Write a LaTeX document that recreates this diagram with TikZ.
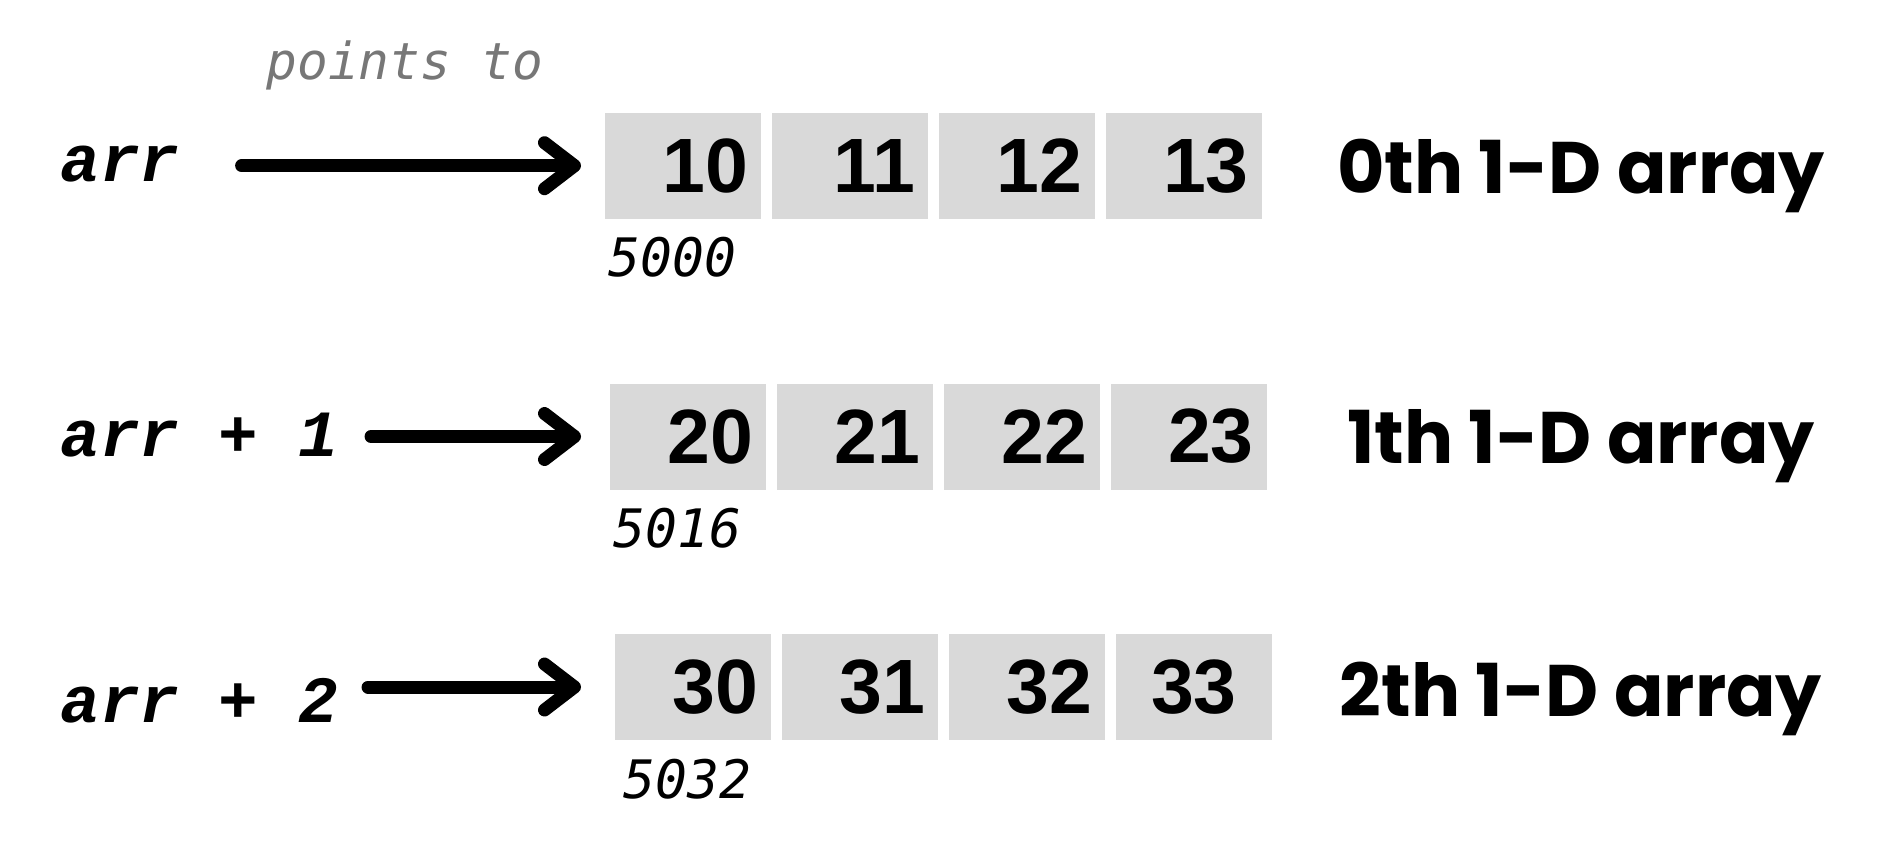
\documentclass[tikz,border=0pt]{standalone}
\usepackage{fontspec}
\usepackage{tikz}
\usetikzlibrary{positioning, arrows.meta}

\newfontfamily\cellfont{Liberation Sans}
\newfontfamily\tagfont{Poppins}
\newfontfamily\ptrfont{Liberation Mono}
\newfontfamily\addrfont{DejaVu Sans Mono}

\definecolor{cellGray}{HTML}{D9D9D9}
\definecolor{noteGray}{HTML}{777777}

\begin{document}
\begin{tikzpicture}[
    x=0.5pt, y=-0.5pt,
    % 数组元素方块
    cell/.style={rectangle, fill=cellGray, minimum height=53pt, inner xsep=6.5pt, text width=65pt, align=right,
        font={\cellfont\bfseries\fontsize{38.5}{40}\selectfont}},
    % 指针名称与地址
    ptr/.style={inner sep=0pt, font={\ptrfont\bfseries\itshape\fontsize{33}{36}\selectfont}},
    addr/.style={inner sep=0pt, font={\addrfont\itshape\fontsize{26.5}{30}\selectfont}},
    tag/.style={inner sep=0pt, font={\tagfont\bfseries\fontsize{36.5}{40}\selectfont}},
    note/.style={inner sep=0pt, text=noteGray, font={\addrfont\itshape\fontsize{25.5}{28}\selectfont}},
    % 粗箭头
    arr/.style={-{Straight Barb[length=15pt, width=23pt, round]}, line width=6.5pt, line cap=round},
]
\useasboundingbox (0,0) rectangle (1896,857);

% ==================== 1. 行高 ====================
\def\yA{165.7}
\def\yB{436.5}
\def\yC{687}

% ==================== 2. 第 0 行 ====================
\node[cell, anchor=west] (c00) at (605,\yA) {10};
\node[cell, right=5pt of c00] (c01) {11};
\node[cell, right=5pt of c01] (c02) {12};
\node[cell, right=5pt of c02] (c03) {13};

\node[ptr, anchor=base west] (p0) at (60,181) {arr};
\node[addr, anchor=base west] (a0) at (608,276) {5000};
\node[tag, anchor=base] (t0) at (1581,193) {0th 1-D array};
\node[note, anchor=base] (pt) at (405,79) {points to};

\draw[arr, shorten <=31pt, shorten >=12pt] (p0.east |- c00.west) -- (c00.west);

% ==================== 3. 第 1 行 ====================
\node[cell, anchor=west] (c10) at (610,\yB) {20};
\node[cell, right=5pt of c10] (c11) {21};
\node[cell, right=5pt of c11] (c12) {22};
\node[cell, right=5pt of c12] (c13) {23};

\node[ptr, anchor=base west] (p1) at (60,456) {arr + 1};
\node[addr, anchor=base west] (a1) at (613,547) {5016};
\node[tag, anchor=base] (t1) at (1581,463) {1th 1-D array};

\draw[arr, shorten <=16.5pt, shorten >=14.5pt] (p1.east |- c10.west) -- (c10.west);

% ==================== 4. 第 2 行 ====================
\node[cell, anchor=west] (c20) at (615,\yC) {30};
\node[cell, right=5pt of c20] (c21) {31};
\node[cell, right=5pt of c21] (c22) {32};
\node[cell, right=5pt of c22] (c23) {33\kern11pt};

\node[ptr, anchor=base west] (p2) at (60,722) {arr + 2};
\node[addr, anchor=base west] (a2) at (623,798) {5032};
\node[tag, anchor=base] (t2) at (1581,716) {2th 1-D array};

\draw[arr, shorten <=15pt, shorten >=17pt] (p2.east |- c20.west) -- (c20.west);

\end{tikzpicture}
\end{document}
